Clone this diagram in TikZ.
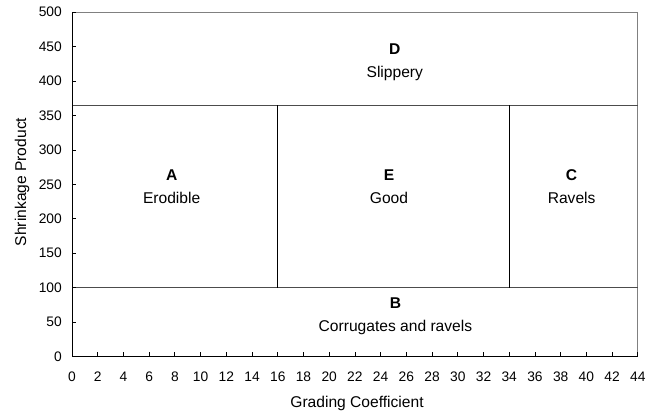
\documentclass[tikz,border=0pt]{standalone}
\usepackage{fontspec}
\setmainfont{Liberation Sans}
\tikzset{
  ticklab/.style={font=\fontsize{13.8}{15}\selectfont, inner sep=0pt},
  regionlab/.style={align=center, font=\fontsize{15.6}{23}\selectfont, inner sep=0pt},
  frameline/.style={draw=black!50, line width=0.9pt},
  bandline/.style={draw=black!70, line width=1pt},
  divline/.style={draw=black, line width=0.9pt},
  axisline/.style={draw=black, line width=1pt},
  axistitle/.style={font=\fontsize{15.6}{17}\selectfont, inner sep=0pt}
}
\begin{document}
\begin{tikzpicture}[x=1pt,y=1pt]
\useasboundingbox (0,0) rectangle (657,417);
\node[axistitle, rotate=90] (ytitle) at (22,235) {Shrinkage Product};
\node[axistitle] (xtitle) at (357,14) {Grading Coefficient};
\begin{scope}[shift={(72,60.5)}, x=12.86pt, y=0.6885pt]
  % frame
  \coordinate (o) at (0,0);
  \coordinate (tl) at (0,500);
  \coordinate (tr) at (44,500);
  \coordinate (br) at (44,0);
  \draw[frameline] (tl) -- (tr) -- (br);
  % bands
  \coordinate (h1l) at (0,365); \coordinate (h1r) at (44,365);
  \coordinate (h2l) at (0,100); \coordinate (h2r) at (44,100);
  \draw[bandline] (h1l) -- (h1r);
  \draw[bandline] (h2l) -- (h2r);
  \coordinate (v1b) at (16,100); \coordinate (v1t) at (16,365);
  \coordinate (v2b) at (34,100); \coordinate (v2t) at (34,365);
  \draw[divline] (v1b) -- (v1t);
  \draw[divline] (v2b) -- (v2t);
  % axes
  \draw[axisline] (tl) -- (o) -- (br);
  \foreach \yv in {0,50,...,500} {
    \draw[black, line width=0.8pt] (0,\yv) -- ++(4pt,0);
    \node[ticklab, anchor=east] (yl\yv) at ([xshift=-10pt]0,\yv) {\yv};
  }
  \foreach \xv in {0,2,...,44} {
    \draw[black, line width=0.8pt] (\xv,0) -- ++(0,4pt);
    \node[ticklab] (xl\xv) at ([yshift=-20.5pt]\xv,0) {\xv};
  }
  % region labels
  \node[regionlab] (D) at (25.1,428) {\textbf{D}\\Slippery};
  \node[regionlab] (A) at (7.75,246) {\textbf{A}\\Erodible};
  \node[regionlab] (E) at (24.65,246) {\textbf{E}\\Good};
  \node[regionlab] (C) at (38.85,246) {\textbf{C}\\Ravels};
  \node[regionlab] (B) at (25.15,58) {\textbf{B}\\Corrugates and ravels};
\end{scope}
\end{tikzpicture}
\end{document}
